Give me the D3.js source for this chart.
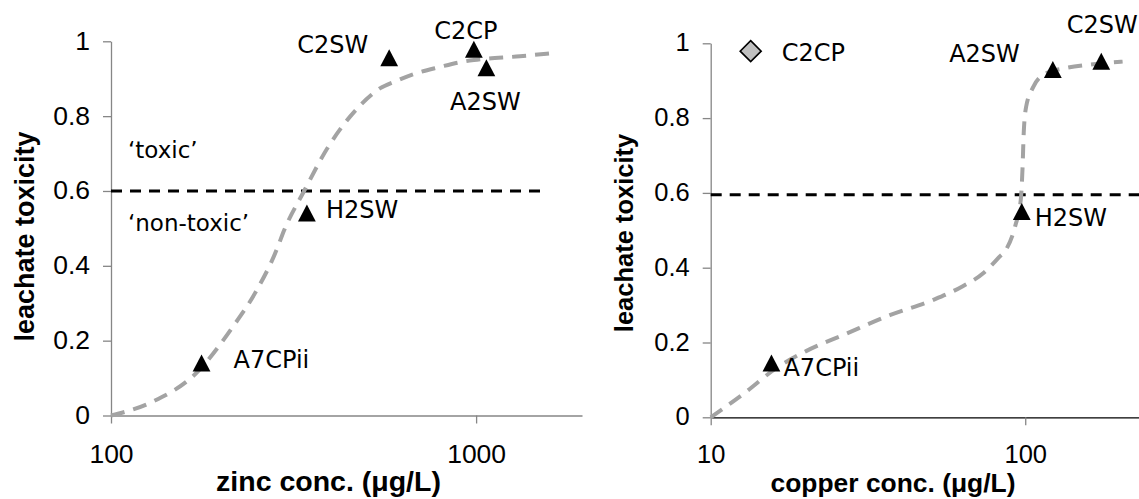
<!DOCTYPE html>
<html>
<head>
<meta charset="utf-8">
<script src="https://cdn.jsdelivr.net/npm/d3@7"></script>
<style>
  html, body { margin: 0; padding: 0; background: #ffffff; }
  svg { display: block; }
</style>
</head>
<body>
<svg id="chart" width="1139" height="499"></svg>
<script>
// ---- Zinc leachates ----
const zincSamples = ["C2SW", "C2CP", "A2SW", "H2SW", "A7CPii"];
const zincConc    = [578, 986, 1067, 344, 177];
const zincTox     = [0.956, 0.979, 0.929, 0.541, 0.14];
// fitted dose-response curve (zinc)
const zincFitConc = [100, 130, 171, 216, 248, 284, 298, 338, 393, 451, 517, 545, 601, 672, 800, 902, 986, 1318, 1607];
const zincFitTox  = [0, 0.037, 0.113, 0.238, 0.327, 0.442, 0.495, 0.6, 0.717, 0.798, 0.857, 0.874, 0.893, 0.912, 0.932, 0.944, 0.95, 0.96, 0.968];
const zincThresholdConc = [100, 1510];
const zincThresholdTox  = [0.6, 0.6];
const zincTickValues = [100, 1000];
const zincTickLabels = ["100", "1000"];
const zincDomain = [100, 1950];

// ---- Copper leachates ----
const copperSamples = ["A2SW", "C2SW", "H2SW", "A7CPii"];
const copperConc    = [122.4, 174.5, 97.5, 15.6];
const copperTox     = [0.93, 0.952, 0.55, 0.145];
// sample left out of the copper fit
const copperOutlierSamples = ["C2CP"];
const copperOutlierConc    = [13.4];
const copperOutlierTox     = [0.979];
// fitted dose-response curve (copper)
const copperFitConc = [10, 12.77, 16.2, 20.1, 26.9, 37.1, 51, 63.1, 74, 82.3, 87, 92.9, 96.8, 98.1, 98.9, 100.7, 106.2, 116.6, 133.2, 156.3, 178.6, 204];
const copperFitTox  = [0, 0.064, 0.132, 0.177, 0.223, 0.273, 0.314, 0.35, 0.387, 0.427, 0.449, 0.511, 0.582, 0.671, 0.76, 0.831, 0.884, 0.92, 0.933, 0.942, 0.947, 0.951];
const copperThresholdConc = [10, 230];
const copperThresholdTox  = [0.595, 0.595];
const copperTickValues = [10, 100];
const copperTickLabels = ["10", "100"];
const copperDomain = [10, 230];

// ---- shared toxicity axis ----
const toxTickValues = [0, 0.2, 0.4, 0.6, 0.8, 1];
const toxTickLabels = ["0", "0.2", "0.4", "0.6", "0.8", "1"];

const svg = d3.select("#chart");

const TICK_FONT = "'Liberation Sans', Arial, sans-serif";
const TITLE_FONT = "'Liberation Sans', Arial, sans-serif";
const LABEL_FONT = "'DejaVu Sans', Verdana, sans-serif";

const triangle = "M0,-8.5L8.9,8.5L-8.9,8.5Z";
const diamond = "M0,-10.5L10.5,0L0,10.5L-10.5,0Z";

function drawPanel(cfg) {
  const x = d3.scaleLog().domain(cfg.domain).range(cfg.xRange);
  const y = d3.scaleLinear().domain([0, 1]).range(cfg.yRange);
  const g = svg.append("g");

  // y axis
  const yAxis = d3.axisLeft(y)
    .tickValues(toxTickValues)
    .tickFormat((d, i) => toxTickLabels[i])
    .tickSize(8).tickSizeOuter(0).tickPadding(13);
  const ya = g.append("g").attr("transform", `translate(${x(cfg.domain[0])},0)`).call(yAxis);
  ya.select(".domain").attr("stroke", "#868686").attr("stroke-width", 1.3);
  ya.selectAll(".tick line").attr("stroke", "#868686").attr("stroke-width", 1.3);
  ya.selectAll(".tick text")
    .attr("font-family", TICK_FONT).attr("font-size", cfg.tickSize).attr("fill", "#000")
    .attr("dy", "0.3em");

  // x axis
  const xAxis = d3.axisBottom(x)
    .tickValues(cfg.tickValues)
    .tickFormat((d, i) => cfg.tickLabels[i])
    .tickSize(8).tickSizeOuter(0).tickPadding(cfg.xTickPad);
  const xa = g.append("g").attr("transform", `translate(0,${y(0)})`).call(xAxis);
  xa.select(".domain").attr("stroke", cfg.xAxisColor).attr("stroke-width", 1.3);
  xa.selectAll(".tick line").attr("stroke", "#868686").attr("stroke-width", 1.3);
  xa.selectAll(".tick text")
    .attr("font-family", TICK_FONT).attr("font-size", cfg.tickSize).attr("fill", "#000")
    .attr("dy", "0");

  // toxicity threshold
  const line = d3.line().x(d => x(d[0])).y(d => y(d[1]));
  g.append("path")
    .datum(d3.zip(cfg.thrConc, cfg.thrTox))
    .attr("d", line)
    .attr("fill", "none").attr("stroke", "#000")
    .attr("stroke-width", 3).attr("stroke-dasharray", "11,8");

  // fitted curve
  const curve = d3.line().x(d => x(d[0])).y(d => y(d[1])).curve(d3.curveMonotoneX);
  g.append("path")
    .datum(d3.zip(cfg.fitConc, cfg.fitTox))
    .attr("d", curve)
    .attr("fill", "none").attr("stroke", "#a3a3a3")
    .attr("stroke-width", 4).attr("stroke-dasharray", "14,9");

  // samples
  const pts = d3.zip(cfg.samples, cfg.conc, cfg.tox);
  g.selectAll(".tri").data(pts).join("path")
    .attr("class", "tri")
    .attr("d", triangle)
    .attr("transform", d => `translate(${x(d[1])},${y(d[2])})`)
    .attr("fill", "#000");

  if (cfg.outSamples) {
    const opts = d3.zip(cfg.outSamples, cfg.outConc, cfg.outTox);
    g.selectAll(".dia").data(opts).join("path")
      .attr("class", "dia")
      .attr("d", diamond)
      .attr("transform", d => `translate(${x(d[1])},${y(d[2])})`)
      .attr("fill", "#c0c0c0").attr("stroke", "#000").attr("stroke-width", 1.6);
    pts.push(...opts);
  }

  // sample names
  g.selectAll(".lbl").data(pts).join("text")
    .attr("class", "lbl")
    .attr("x", d => x(d[1]) + cfg.labelPos[d[0]][0])
    .attr("y", d => y(d[2]) + cfg.labelPos[d[0]][1])
    .attr("text-anchor", d => cfg.labelPos[d[0]][2])
    .attr("font-family", LABEL_FONT).attr("font-size", 24).attr("fill", "#000")
    .text(d => d[0]);

  // zone notes
  (cfg.notes || []).forEach(n => {
    g.append("text")
      .attr("x", x(n.conc)).attr("y", y(n.tox))
      .attr("font-family", LABEL_FONT).attr("font-size", 23).attr("fill", "#000")
      .text(n.text);
  });

  // axis titles
  g.append("text")
    .attr("x", cfg.xTitlePos[0]).attr("y", cfg.xTitlePos[1])
    .attr("text-anchor", "middle")
    .attr("font-family", TITLE_FONT).attr("font-weight", "bold").attr("font-size", cfg.xTitleSize)
    .text(cfg.xTitle);
  g.append("text")
    .attr("transform", `translate(${cfg.yTitlePos[0]},${cfg.yTitlePos[1]}) rotate(-90)`)
    .attr("text-anchor", "middle")
    .attr("font-family", TITLE_FONT).attr("font-weight", "bold").attr("font-size", cfg.yTitleSize)
    .text("leachate toxicity");
}

drawPanel({
  samples: zincSamples, conc: zincConc, tox: zincTox,
  fitConc: zincFitConc, fitTox: zincFitTox,
  thrConc: zincThresholdConc, thrTox: zincThresholdTox,
  domain: zincDomain, xRange: [111, 582], yRange: [415.5, 41.3],
  tickValues: zincTickValues, tickLabels: zincTickLabels,
  tickSize: 26.5, xTickPad: 39.5,
  xAxisColor: "#868686",
  xTitle: "zinc conc. (\u03bcg/L)", xTitlePos: [328.5, 491], xTitleSize: 28.5,
  yTitlePos: [33.5, 236.5], yTitleSize: 27,
  labelPos: {
    C2SW: [-21, -5, "end"],
    C2CP: [-8, -10, "middle"],
    A2SW: [-1, 42, "middle"],
    H2SW: [19, 5, "start"],
    A7CPii: [32, 5, "start"]
  },
  notes: [
    { text: "\u2018toxic\u2019", conc: 111.3, tox: 0.687 },
    { text: "\u2018non-toxic\u2019", conc: 111.3, tox: 0.492 }
  ]
});

drawPanel({
  samples: copperSamples, conc: copperConc, tox: copperTox,
  outSamples: copperOutlierSamples, outConc: copperOutlierConc, outTox: copperOutlierTox,
  fitConc: copperFitConc, fitTox: copperFitTox,
  thrConc: copperThresholdConc, thrTox: copperThresholdTox,
  domain: copperDomain, xRange: [710.7, 1139], yRange: [417.3, 43.3],
  tickValues: copperTickValues, tickLabels: copperTickLabels,
  tickSize: 25.5, xTickPad: 38,
  xAxisColor: "#000000",
  xTitle: "copper conc. (\u03bcg/L)", xTitlePos: [893, 492], xTitleSize: 26.4,
  yTitlePos: [632.5, 233], yTitleSize: 25.5,
  labelPos: {
    C2CP: [31, 10, "start"],
    A2SW: [-33, -7, "end"],
    C2SW: [1, -28, "middle"],
    H2SW: [13, 14, "start"],
    A7CPii: [12, 13, "start"]
  }
});
</script>
</body>
</html>
